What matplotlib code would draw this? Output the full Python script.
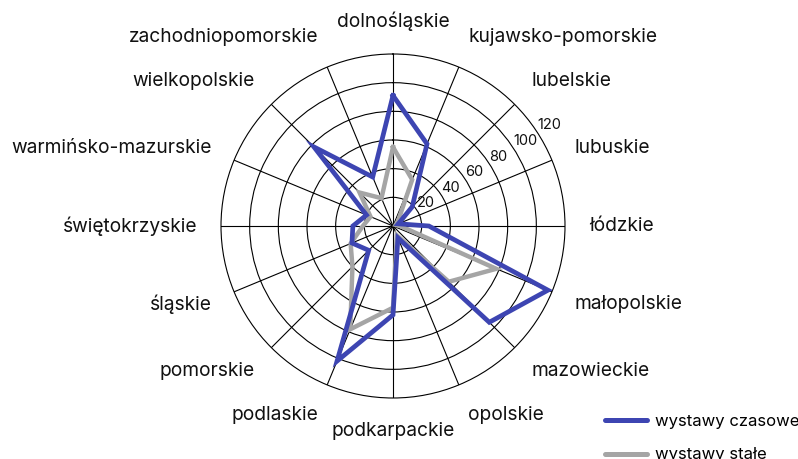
import numpy as np
import matplotlib
matplotlib.use("Agg")
import matplotlib.pyplot as plt
from matplotlib.lines import Line2D

plt.rcParams['font.family'] = ['Inter', 'DejaVu Sans']

categories = ["dolnośląskie", "kujawsko-pomorskie", "lubelskie", "lubuskie", "łódzkie",
              "małopolskie", "mazowieckie", "opolskie", "podkarpackie", "podlaskie",
              "pomorskie", "śląskie", "świętokrzyskie", "warmińsko-mazurskie",
              "wielkopolskie", "zachodniopomorskie"]
czasowe = [91, 62, 19, 4, 25, 117, 95, 9, 62, 102, 24, 31, 28, 20, 78, 37]
stale = [55, 35, 5, 2, 5, 78, 55, 7, 57, 78, 40, 32, 21, 17, 33, 21]
r_ticks = [20, 40, 60, 80, 100, 120]
series_names = ["wystawy czasowe", "wystawy stałe"]

BLUE = "#3d45b2"
GRAY = "#a5a5a5"

W, H = 798, 459
fig = plt.figure(figsize=(W / 100, H / 100), dpi=100)
cx, cy, R = 393, 226, 172
ax = fig.add_axes([(cx - R) / W, (H - cy - R) / H, 2 * R / W, 2 * R / H], projection='polar')
ax.set_theta_zero_location('N')
ax.set_theta_direction(-1)
ax.set_ylim(0, max(r_ticks))

n = len(categories)
angles = np.linspace(0, 2 * np.pi, n, endpoint=False)
ax.set_xticks(angles)
ax.set_xticklabels([])
ax.set_yticks(r_ticks[:-1])
ax.set_yticklabels([])
ax.grid(True, color='black', linewidth=0.8)
ax.spines['polar'].set_color('black')
ax.spines['polar'].set_linewidth(0.8)

ang_c = np.append(angles, angles[0])
ax.plot(ang_c, stale + stale[:1], color=GRAY, lw=3.2, solid_joinstyle='miter', zorder=3)
ax.plot(ang_c, czasowe + czasowe[:1], color=BLUE, lw=3.4, solid_joinstyle='miter', zorder=4)

# radial tick labels
for v in r_ticks:
    ax.text(np.deg2rad(57), v, str(v), ha='left', va='bottom', fontsize=10.5,
            color='#111111', zorder=5)

# category labels
Rx, Ry = 196, 205
for a, lab in zip(angles, categories):
    s, c = np.sin(a), np.cos(a)
    dx, dy = Rx * s, Ry * c
    if s > 0.01:
        ha = 'left'
    elif s < -0.01:
        ha = 'right'
    else:
        ha = 'center'
    ax.text(0.5 + dx / (2 * R), 0.5 + dy / (2 * R), lab, transform=ax.transAxes,
            ha=ha, va='center', fontsize=13.8, color='#111111', clip_on=False)

handles = [Line2D([0], [0], color=BLUE, lw=3.6, solid_capstyle='round'),
           Line2D([0], [0], color=GRAY, lw=3.6, solid_capstyle='round')]
fig.legend(handles, series_names, loc='upper left', bbox_to_anchor=(605 / W, (H - 414) / H),
           frameon=False, fontsize=12, handlelength=2.5, handletextpad=0.5,
           labelspacing=1.1, borderpad=0, borderaxespad=0)

fig.savefig("out.png", dpi=100)
